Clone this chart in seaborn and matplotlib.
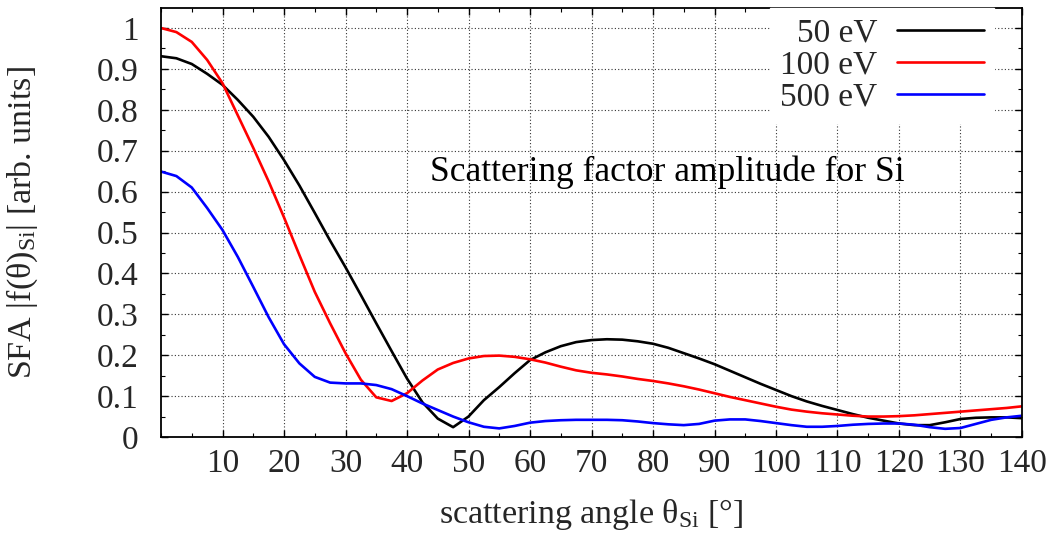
import numpy as np
import pandas as pd
import seaborn as sns
import matplotlib
matplotlib.use("Agg")
import matplotlib.pyplot as plt
from matplotlib.ticker import MultipleLocator, FixedLocator

# ---- data ----
angle = [0, 2.5, 5, 7.5, 10, 12.5, 15, 17.5, 20, 22.5, 25, 27.5, 30, 32.5, 35, 37.5,
         40, 42.5, 45, 47.5, 50, 52.5, 55, 57.5, 60, 62.5, 65, 67.5, 70, 72.5, 75, 77.5,
         80, 82.5, 85, 87.5, 90, 92.5, 95, 97.5, 100, 102.5, 105, 107.5, 110, 112.5,
         115, 117.5, 120, 122.5, 125, 127.5, 130, 132.5, 135, 137.5, 140]

sfa_50 = [0.931, 0.926, 0.912, 0.888, 0.861, 0.824, 0.783, 0.734, 0.677, 0.615, 0.548,
          0.480, 0.415, 0.347, 0.278, 0.210, 0.143, 0.085, 0.045, 0.024, 0.050, 0.090,
          0.122, 0.156, 0.188, 0.207, 0.222, 0.232, 0.237, 0.239, 0.238, 0.234, 0.228,
          0.218, 0.205, 0.192, 0.178, 0.162, 0.146, 0.130, 0.115, 0.100, 0.087, 0.076,
          0.066, 0.056, 0.047, 0.040, 0.033, 0.029, 0.029, 0.036, 0.044, 0.047, 0.048,
          0.048, 0.046]

sfa_100 = [1.000, 0.990, 0.966, 0.922, 0.865, 0.786, 0.707, 0.625, 0.537, 0.445, 0.355,
           0.278, 0.205, 0.140, 0.097, 0.088, 0.107, 0.138, 0.165, 0.181, 0.192, 0.198,
           0.199, 0.196, 0.190, 0.182, 0.172, 0.163, 0.157, 0.153, 0.148, 0.142, 0.137,
           0.131, 0.124, 0.116, 0.107, 0.098, 0.090, 0.082, 0.074, 0.067, 0.062, 0.058,
           0.055, 0.052, 0.050, 0.050, 0.051, 0.053, 0.056, 0.059, 0.062, 0.065, 0.068,
           0.071, 0.075]

sfa_500 = [0.649, 0.638, 0.610, 0.560, 0.506, 0.440, 0.367, 0.293, 0.227, 0.180, 0.147,
           0.133, 0.131, 0.131, 0.127, 0.117, 0.100, 0.082, 0.066, 0.050, 0.036, 0.025,
           0.021, 0.027, 0.035, 0.039, 0.041, 0.042, 0.042, 0.042, 0.041, 0.038, 0.034,
           0.031, 0.029, 0.032, 0.040, 0.043, 0.043, 0.039, 0.034, 0.029, 0.025, 0.025,
           0.027, 0.030, 0.032, 0.033, 0.033, 0.030, 0.024, 0.020, 0.022, 0.032, 0.042,
           0.048, 0.052]

series_labels = ["50 eV", "100 eV", "500 eV"]
series_colors = ["#000000", "#ff0000", "#0000ff"]
xtick_vals = [10, 20, 30, 40, 50, 60, 70, 80, 90, 100, 110, 120, 130, 140]
ytick_vals = [0, 0.1, 0.2, 0.3, 0.4, 0.5, 0.6, 0.7, 0.8, 0.9, 1.0]
ytick_labels = ["0", "0.1", "0.2", "0.3", "0.4", "0.5", "0.6", "0.7", "0.8", "0.9", "1"]

df = pd.concat([
    pd.DataFrame({"angle": angle, "sfa": vals, "energy": lab})
    for vals, lab in zip([sfa_50, sfa_100, sfa_500], series_labels)
], ignore_index=True)

# ---- style ----
sns.set_theme(style="ticks")
plt.rcParams["font.family"] = ["Liberation Serif", "DejaVu Serif"]
plt.rcParams["mathtext.fontset"] = "custom"
plt.rcParams["mathtext.rm"] = "Liberation Serif"
plt.rcParams["mathtext.it"] = "Liberation Serif:italic"
plt.rcParams["mathtext.bf"] = "Liberation Serif:bold"

fig = plt.figure(figsize=(10.54, 5.39), dpi=100)
ax = fig.add_axes([161 / 1054, 1 - 437 / 539, 861 / 1054, 429 / 539])

sns.lineplot(data=df, x="angle", y="sfa", hue="energy", hue_order=series_labels,
             palette=dict(zip(series_labels, series_colors)), linewidth=1.9,
             ax=ax, legend=True)

ax.set_xlim(0, 140)
ax.set_ylim(0, 429 / 409)
ax.xaxis.set_major_locator(FixedLocator(xtick_vals))
ax.xaxis.set_minor_locator(MultipleLocator(5))
ax.set_yticks(ytick_vals)
ax.set_yticklabels(ytick_labels)
ax.yaxis.set_minor_locator(MultipleLocator(0.05))

ax.tick_params(which="both", direction="in", top=True, right=True, color="black")
ax.tick_params(which="major", length=5, width=1.0)
ax.tick_params(which="minor", length=3, width=0.8)
ax.tick_params(axis="x", which="major", labelsize=24, pad=8)
ax.tick_params(axis="y", which="major", labelsize=24, pad=16)

for sp in ax.spines.values():
    sp.set_color("black")
    sp.set_linewidth(1.3)

ax.set_axisbelow(True)
ax.grid(True, which="major", color="#333333", linestyle=(0, (1, 2)), linewidth=0.8)
ax.grid(False, which="minor")

ax.set_xlabel(r"scattering angle θ$_{\mathrm{Si}}$ [°]", fontsize=24.5)
ax.set_ylabel(r"SFA |f(θ)$_{\mathrm{Si}}$| [arb. units]", fontsize=24.5)
ax.xaxis.set_label_coords(0.5, -0.14)
ax.yaxis.set_label_coords(-0.14, 0.5)

ax.text(43.7, 0.648, "Scattering factor amplitude for Si", fontsize=25.5,
        ha="left", va="center", color="black")

handles, labels = ax.get_legend_handles_labels()
leg = ax.legend(handles, labels, loc="upper right", bbox_to_anchor=(0.9675, 1.0),
                markerfirst=False, frameon=True, fancybox=False, framealpha=1.0,
                facecolor="white", edgecolor="white", fontsize=24,
                handlelength=2.6, handletextpad=0.6, labelspacing=0.05,
                borderpad=0.3, borderaxespad=0.0)
for line in leg.get_lines():
    line.set_linewidth(1.9)

fig.savefig("out.png", dpi=100)
